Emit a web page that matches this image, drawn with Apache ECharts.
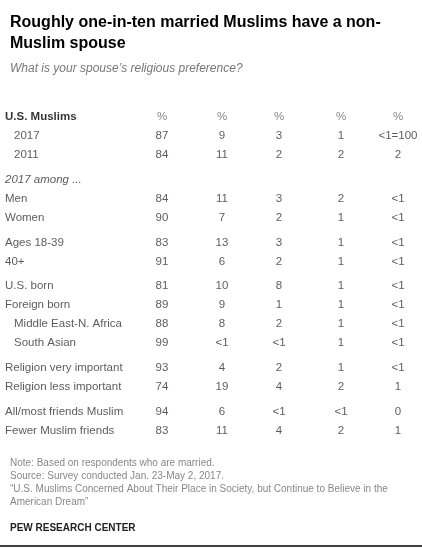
<!DOCTYPE html>
<html><head><meta charset="utf-8">
<script src="https://cdn.jsdelivr.net/npm/echarts@6/dist/echarts.min.js"></script>
<style>html,body{margin:0;padding:0;background:#fff}#c{width:422px;height:548px}</style>
</head><body><div id="c"></div>
<script>
const columns = ['Muslim','Christian','Other\nreligion','No religion/\natheist','DK/ref'];
const rowLabels = ['U.S. Muslims','2017','2011','2017 among ...','Men','Women','Ages 18-39','40+','U.S. born','Foreign born','Middle East-N. Africa','South Asian','Religion very important','Religion less important','All/most friends Muslim','Fewer Muslim friends'];
const rowGroups = [0,0,0,1,1,1,2,2,3,3,3,3,4,4,5,5];
const rowStyle = ['bold','indent','indent','italic','','','','','','','indent','indent','','','',''];
const muslim    = ['%','87','84','','84','90','83','91','81','89','88','99','93','74','94','83'];
const christian = ['%','9','11','','11','7','13','6','10','9','8','<1','4','19','6','11'];
const other     = ['%','3','2','','3','2','3','2','8','1','2','<1','2','4','<1','4'];
const noRel     = ['%','1','2','','2','1','1','1','1','1','1','1','1','2','<1','2'];
const dkRef     = ['%','<1=100','2','','<1','<1','<1','<1','<1','<1','<1','<1','<1','1','0','1'];

const colX = [162,222,279,341,398];
const valueCols = [muslim,christian,other,noRel,dkRef];
const pos = i => i + rowGroups[i]*0.3;
const FONT = '"Liberation Sans", Arial, sans-serif';

const cellData = [];
valueCols.forEach((col,c)=>col.forEach((v,i)=>{ if(v!=='') cellData.push({value:[colX[c],pos(i)],label:{formatter:v, color: v==='%'?'#666':'#333'}}); }));
const labelData = rowLabels.map((t,i)=>({value:[rowStyle[i]==='indent'?14:5,pos(i)],label:{formatter:t,
  fontWeight: rowStyle[i]==='bold'?'bold':'normal', fontStyle: rowStyle[i]==='italic'?'italic':'normal', color: rowStyle[i]==='bold'?'#000':'#333'}}));
const headData = columns.map((t,c)=>({value:[colX[c],-0.95],label:{formatter:t}}));

const chart = echarts.init(document.getElementById('c'));
chart.setOption({
  animation:false,
  textStyle:{fontFamily:FONT},
  title:[
    {text:'Roughly one-in-ten married Muslims have a non-\nMuslim spouse', left:5, top:7, textStyle:{fontFamily:FONT,fontSize:16,fontWeight:'bold',color:'#000',lineHeight:21}},
    {text:'What is your spouse\u2019s religious preference?', left:5, top:58, textStyle:{fontFamily:FONT,fontSize:12,fontStyle:'italic',fontWeight:'normal',color:'#777'}},
    {text:'Note: Based on respondents who are married.\nSource: Survey conducted Jan. 23-May 2, 2017.\n\u201cU.S. Muslims Concerned About Their Place in Society, but Continue to Believe in the\nAmerican Dream\u201d', left:5, top:452, textStyle:{fontFamily:FONT,fontSize:10,fontWeight:'normal',color:'#888',lineHeight:13}},
    {text:'PEW RESEARCH CENTER', left:5, top:518, textStyle:{fontFamily:FONT,fontSize:10,fontWeight:'bold',color:'#222'}}
  ],
  grid:{left:0,right:0,top:117-2.5*19,height:19*19},
  xAxis:{type:'value',min:0,max:422,show:false},
  yAxis:{type:'value',min:-2.5,max:16.5,inverse:true,show:false},
  series:[
    {type:'scatter',symbolSize:0,data:cellData,label:{show:true,position:'inside',fontSize:11.5,fontFamily:FONT}},
    {type:'scatter',symbolSize:0,data:labelData,label:{show:true,position:'right',distance:0,fontSize:11.5,fontFamily:FONT}},
    {type:'scatter',symbolSize:1,itemStyle:{opacity:0},data:headData,label:{show:true,position:'top',distance:0,align:'center',verticalAlign:'bottom',fontSize:11,fontWeight:'bold',lineHeight:15,color:'#222',fontFamily:FONT}}
  ],
  graphic:[{type:'line',shape:{x1:0,y1:546,x2:422,y2:546},style:{stroke:'#000',lineWidth:1.5}}]
});
</script></body></html>
